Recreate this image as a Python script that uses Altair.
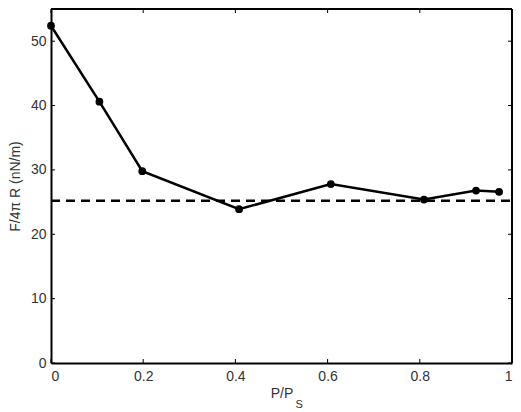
import altair as alt
import pandas as pd

# data
p_ratio = [0.0, 0.105, 0.198, 0.408, 0.607, 0.809, 0.922, 0.972]
force = [52.4, 40.6, 29.8, 23.9, 27.8, 25.4, 26.8, 26.6]
ref_level = [25.2]
x_ticks = [0, 0.2, 0.4, 0.6, 0.8, 1.0]
y_ticks = [0, 10, 20, 30, 40, 50]

W, H = 461, 354
FONT = "Liberation Sans"

df = pd.DataFrame({"p": p_ratio, "f": force})
ref = pd.DataFrame({"f": ref_level})
xt = pd.DataFrame({"v": x_ticks})
yt = pd.DataFrame({"v": y_ticks})

xs = alt.Scale(domain=[0, 1], nice=False)
ys = alt.Scale(domain=[0, 55], nice=False)

xaxis = alt.Axis(values=x_ticks, labelExpr="datum.value == 0 ? '0' : datum.value == 1 ? '1' : format(datum.value, '.1f')",
                 tickSize=0, domain=True, domainColor="black", domainWidth=2, grid=False,
                 labelPadding=6, labelFontSize=14,
                 labelColor="#333333", labelFont=FONT, title="P/P", titleFont=FONT,
                 titleFontSize=14, titleFontWeight="normal", titleColor="#333333", titlePadding=3)
yaxis = alt.Axis(values=y_ticks, tickSize=0, domain=True, domainColor="black", domainWidth=2,
                 grid=False, labelPadding=5,
                 labelFontSize=14, labelColor="#333333", labelFont=FONT,
                 title="F/4\u03c0 R (nN/m)", titleFont=FONT, titleFontSize=14,
                 titleFontWeight="normal", titleColor="#333333", titlePadding=8)

line = alt.Chart(df).mark_line(color="black", strokeWidth=2.5).encode(
    x=alt.X("p:Q", scale=xs, axis=xaxis),
    y=alt.Y("f:Q", scale=ys, axis=yaxis),
)
pts = alt.Chart(df).mark_circle(color="black", size=60, opacity=1).encode(
    x=alt.X("p:Q", scale=xs), y=alt.Y("f:Q", scale=ys)
)
dash = alt.Chart(ref).mark_rule(color="black", strokeWidth=2.5, strokeDash=[9, 6]).encode(
    y=alt.Y("f:Q", scale=ys), x=alt.value(0), x2=alt.value(W)
)

tick_len = 4
bx = alt.Chart(xt).mark_rule(color="black", strokeWidth=1).encode(
    x=alt.X("v:Q", scale=xs), y=alt.value(H), y2=alt.value(H - tick_len))
tx = alt.Chart(xt).mark_rule(color="black", strokeWidth=1).encode(
    x=alt.X("v:Q", scale=xs), y=alt.value(0), y2=alt.value(tick_len))
ly = alt.Chart(yt).mark_rule(color="black", strokeWidth=1).encode(
    y=alt.Y("v:Q", scale=ys), x=alt.value(0), x2=alt.value(tick_len))
ry = alt.Chart(yt).mark_rule(color="black", strokeWidth=1).encode(
    y=alt.Y("v:Q", scale=ys), x=alt.value(W), x2=alt.value(W - tick_len))

top_border = alt.Chart(ref).mark_rule(color="black", strokeWidth=2).encode(
    x=alt.value(0), x2=alt.value(W), y=alt.value(0))
right_border = alt.Chart(ref).mark_rule(color="black", strokeWidth=2).encode(
    x=alt.value(W), y=alt.value(0), y2=alt.value(H))

sub = alt.Chart(pd.DataFrame({"t": ["S"]})).mark_text(
    font=FONT, fontSize=11, color="#333333", align="left", baseline="alphabetic"
).encode(text="t:N", x=alt.value(W / 2 + 14), y=alt.value(H + 45))

chart = alt.layer(dash, line, pts, bx, tx, ly, ry, top_border, right_border, sub).properties(
    width=W, height=H,
    padding={"left": 51, "top": 9, "right": 9, "bottom": 49},
    autosize="none",
).configure_view(stroke=None).configure(background="white")

chart.save("out.html", embed_options={"renderer": "svg", "actions": False})
